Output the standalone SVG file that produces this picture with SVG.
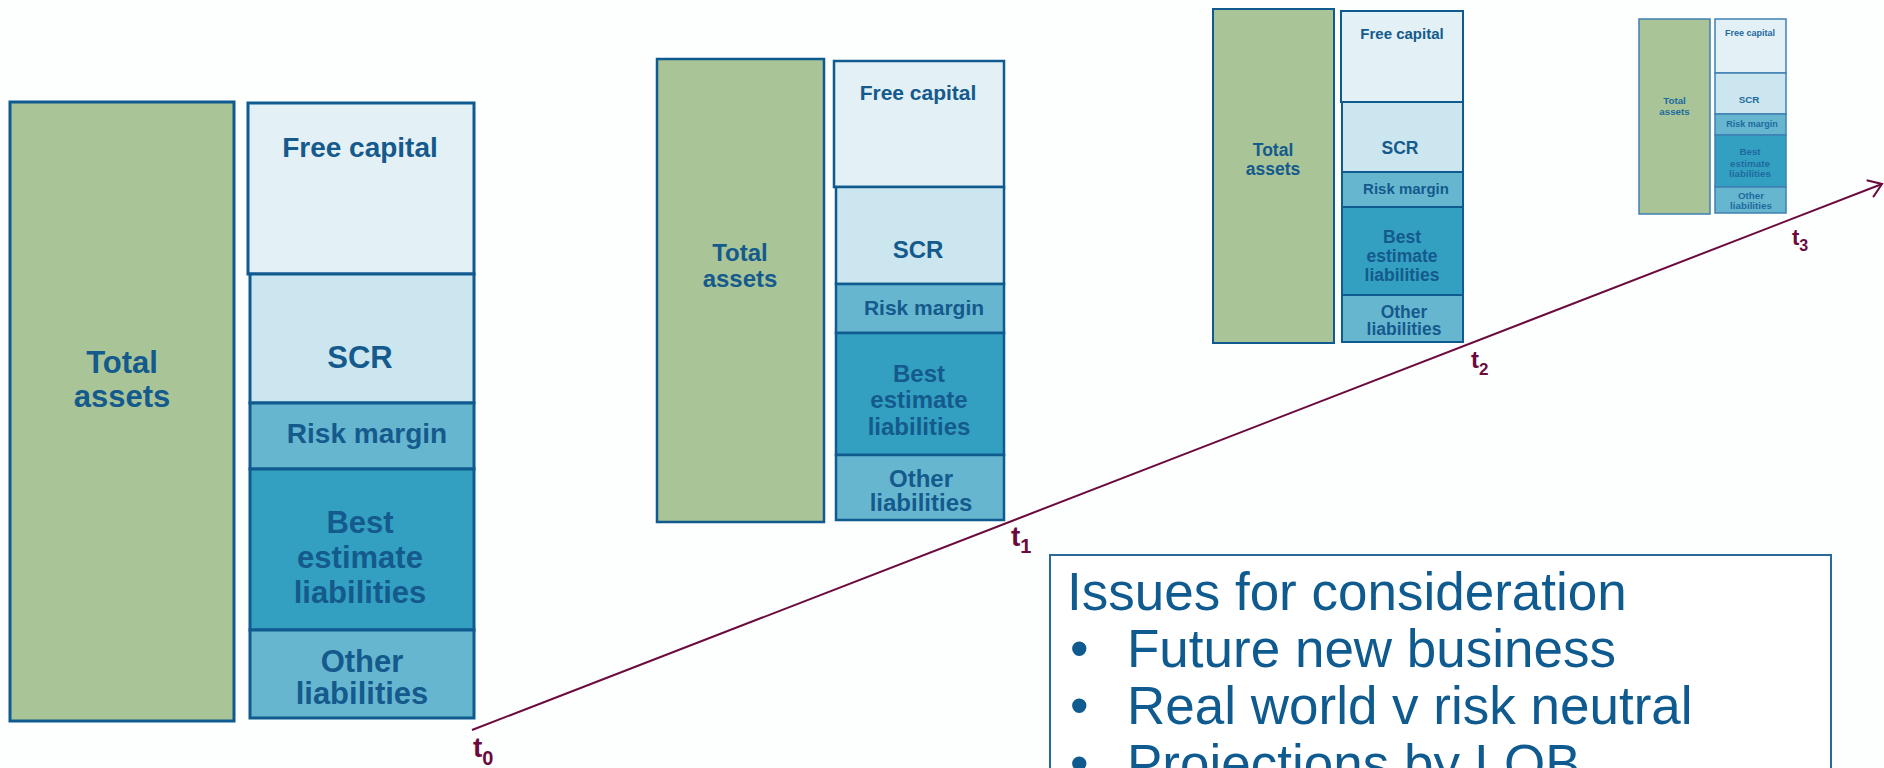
<svg xmlns="http://www.w3.org/2000/svg" width="1884" height="768" viewBox="0 0 1884 768">
  <defs>
    <marker id="openArrow" viewBox="0 0 16 20" markerWidth="16" markerHeight="20" refX="14" refY="10" orient="auto" markerUnits="userSpaceOnUse">
      <path d="M1,1 L14,10 L1,19" fill="none" stroke="#6b0a3c" stroke-width="2"/>
    </marker>
  </defs>
  <style>
    .bg { fill: #fdfefe; }
    .assets { fill: #a9c497; stroke: #0f5a8f; }
    .free { fill: #e3f0f6; stroke: #0f5a8f; }
    .scr { fill: #cbe6ee; stroke: #0f5a8f; }
    .rm { fill: #67b6d0; stroke: #0f5a8f; }
    .be { fill: #33a0c2; stroke: #0f5a8f; }
    .ol { fill: #67b6d0; stroke: #0f5a8f; }
    .faint .assets, .faint .free, .faint .scr, .faint .rm, .faint .be, .faint .ol { stroke: #3f80b2; }
    .lbl { font-family: "Liberation Sans", Arial, sans-serif; font-weight: bold; fill: #145a8c; text-anchor: middle; }
    .faint .lbl { fill: #1f6a9e; }
    .tick { font-family: "Liberation Sans", Arial, sans-serif; font-weight: bold; fill: #6b0a3c; }
    .axis { stroke: #6b0a3c; stroke-width: 2; fill: none; }
    .note { font-family: "Liberation Sans", Arial, sans-serif; font-size: 53px; fill: #0f5a8f; }
    .noteBox { fill: #ffffff; stroke: #2a6a9a; stroke-width: 2; }
  </style>

  <rect class="bg" x="0" y="0" width="1884" height="768"/>

  <!-- balance sheet at t0 -->
  <g id="sheet-t0" stroke-width="3">
    <rect class="assets" x="10" y="102" width="224" height="619"/>
    <rect class="free" x="248" y="103" width="226" height="171"/>
    <rect class="scr" x="250" y="274" width="224" height="129"/>
    <rect class="rm" x="250" y="403" width="224" height="66"/>
    <rect class="be" x="250" y="469" width="224" height="161"/>
    <rect class="ol" x="250" y="630" width="224" height="88"/>
    <g class="lbl" font-size="31">
      <text x="122" y="373">Total</text>
      <text x="122" y="407">assets</text>
      <text x="360" y="157" font-size="28">Free capital</text>
      <text x="360" y="368">SCR</text>
      <text x="367" y="443" font-size="28">Risk margin</text>
      <text x="360" y="533">Best</text>
      <text x="360" y="568">estimate</text>
      <text x="360" y="603">liabilities</text>
      <text x="362" y="672">Other</text>
      <text x="362" y="704">liabilities</text>
    </g>
  </g>

  <!-- balance sheet at t1 -->
  <g id="sheet-t1" stroke-width="2.5">
    <rect class="assets" x="657" y="59" width="167" height="463"/>
    <rect class="free" x="834" y="61" width="170" height="126"/>
    <rect class="scr" x="836" y="187" width="168" height="97"/>
    <rect class="rm" x="836" y="284" width="168" height="49"/>
    <rect class="be" x="836" y="333" width="168" height="122"/>
    <rect class="ol" x="836" y="455" width="168" height="65"/>
    <g class="lbl" font-size="24">
      <text x="740" y="261">Total</text>
      <text x="740" y="287">assets</text>
      <text x="918" y="100" font-size="21">Free capital</text>
      <text x="918" y="258">SCR</text>
      <text x="924" y="315" font-size="21">Risk margin</text>
      <text x="919" y="382">Best</text>
      <text x="919" y="408">estimate</text>
      <text x="919" y="435">liabilities</text>
      <text x="921" y="487">Other</text>
      <text x="921" y="511">liabilities</text>
    </g>
  </g>

  <!-- balance sheet at t2 -->
  <g id="sheet-t2" stroke-width="2">
    <rect class="assets" x="1213" y="9" width="121" height="334"/>
    <rect class="free" x="1341" y="11" width="122" height="91"/>
    <rect class="scr" x="1342" y="102" width="121" height="70"/>
    <rect class="rm" x="1342" y="172" width="121" height="35"/>
    <rect class="be" x="1342" y="207" width="121" height="88"/>
    <rect class="ol" x="1342" y="295" width="121" height="47"/>
    <g class="lbl" font-size="17.5">
      <text x="1273" y="156">Total</text>
      <text x="1273" y="175">assets</text>
      <text x="1402" y="39" font-size="15">Free capital</text>
      <text x="1400" y="154">SCR</text>
      <text x="1406" y="194" font-size="15">Risk margin</text>
      <text x="1402" y="243">Best</text>
      <text x="1402" y="262">estimate</text>
      <text x="1402" y="281">liabilities</text>
      <text x="1404" y="318">Other</text>
      <text x="1404" y="335">liabilities</text>
    </g>
  </g>

  <!-- balance sheet at t3 -->
  <g id="sheet-t3" class="faint" stroke-width="1.5">
    <rect class="assets" x="1639" y="19" width="71" height="195"/>
    <rect class="free" x="1715" y="19" width="71" height="54"/>
    <rect class="scr" x="1715" y="73" width="71" height="41"/>
    <rect class="rm" x="1715" y="114" width="71" height="21"/>
    <rect class="be" x="1715" y="135" width="71" height="52"/>
    <rect class="ol" x="1715" y="187" width="71" height="26"/>
    <g class="lbl" font-size="9.8">
      <text x="1674.5" y="104">Total</text>
      <text x="1674.5" y="115">assets</text>
      <text x="1750" y="36" font-size="9">Free capital</text>
      <text x="1749" y="103">SCR</text>
      <text x="1752" y="127" font-size="9">Risk margin</text>
      <text x="1750" y="155">Best</text>
      <text x="1750" y="167">estimate</text>
      <text x="1750" y="177">liabilities</text>
      <text x="1751" y="199">Other</text>
      <text x="1751" y="209">liabilities</text>
    </g>
  </g>

  <!-- time axis -->
  <g id="connectors">
    <line class="axis" x1="472" y1="730" x2="1882" y2="184" marker-end="url(#openArrow)"/>
  </g>

  <g id="time-labels">
    <text class="tick" x="473" y="757" font-size="28">t<tspan font-size="20" dy="8">0</tspan></text>
    <text class="tick" x="1011" y="546" font-size="28">t<tspan font-size="20" dy="7">1</tspan></text>
    <text class="tick" x="1471" y="368" font-size="24">t<tspan font-size="17" dy="7">2</tspan></text>
    <text class="tick" x="1792" y="245" font-size="22">t<tspan font-size="16" dy="6">3</tspan></text>
  </g>

  <!-- issues note -->
  <g id="issues-note">
    <rect class="noteBox" x="1050" y="555" width="781" height="260"/>
    <text class="note" x="1067" y="610">Issues for consideration</text>
    <text class="note" x="1070" y="667">•</text>
    <text class="note" x="1127" y="667">Future new business</text>
    <text class="note" x="1070" y="724">•</text>
    <text class="note" x="1127" y="724">Real world v risk neutral</text>
    <text class="note" x="1070" y="782">•</text>
    <text class="note" x="1127" y="782">Projections by LOB</text>
  </g>
</svg>
